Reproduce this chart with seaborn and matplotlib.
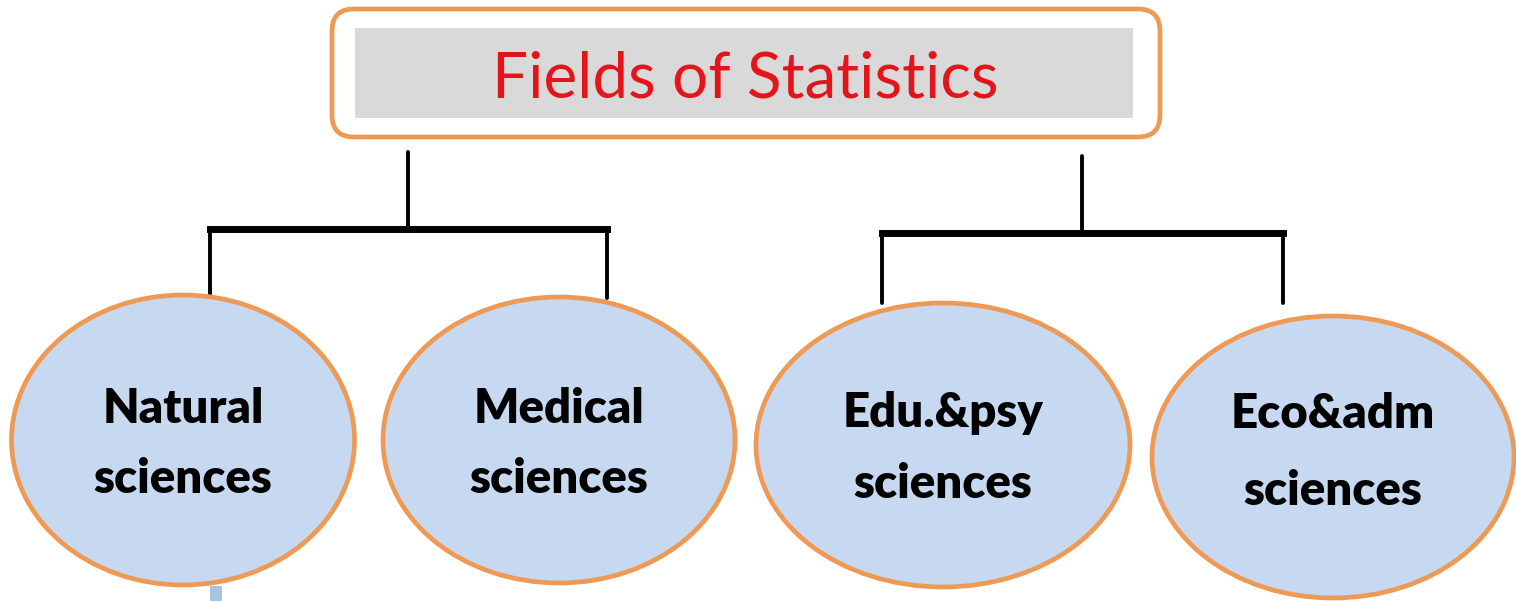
import matplotlib
matplotlib.use("Agg")
import matplotlib.pyplot as plt
import seaborn as sns
from matplotlib.patches import Ellipse, FancyBboxPatch, Rectangle

sns.set_theme(style="white")
plt.rcParams['font.family'] = ['Lato', 'DejaVu Sans']

# ---- content ----
title = "Fields of Statistics"
fields = ["Natural", "Medical", "Edu.&psy", "Eco&adm"]
second_line = ["sciences", "sciences", "sciences", "sciences"]
groups = [[0, 1], [2, 3]]

# ---- layout (pixel coordinates, y downwards) ----
W, H = 1516, 601
ell_cx = [183, 559, 943, 1333]
ell_cy = [440, 440, 445, 457]
ell_w = [343, 352, 374, 362]
ell_h = [290, 286, 284, 282]
line1_base = [423, 423, 427, 428]
line2_base = [493, 493, 498, 505]

orange = "#EE9A55"
blue_fill = "#C6D9F0"

fig = plt.figure(figsize=(W / 100, H / 100), dpi=100)
ax = fig.add_axes([0, 0, 1, 1])
ax.set_xlim(0, W)
ax.set_ylim(H, 0)
ax.axis("off")

# title box
ax.add_patch(FancyBboxPatch((332, 9), 828, 128,
                            boxstyle="round,pad=0,rounding_size=22",
                            facecolor="white", edgecolor=orange, linewidth=3.4, zorder=2))
ax.add_patch(Rectangle((355, 28), 778, 90, facecolor="#D9D9D9", edgecolor="none", zorder=3))
ax.text(745, 98, title, color="#E3151B", fontsize=46, ha="center", va="baseline",
        family=['Lato', 'DejaVu Sans'], zorder=4)

# connectors
conn_top = [152, 156]
conn_x = [408, 1082]
bar_y = [229, 233]
child_x = [[210, 607], [882, 1283]]
child_bottom = [[296, 298], [303, 303]]
for g in range(2):
    sns.lineplot(x=[conn_x[g], conn_x[g]], y=[conn_top[g], bar_y[g]], ax=ax,
                 color="black", linewidth=2.8, sort=False, estimator=None, zorder=1)
    sns.lineplot(x=child_x[g], y=[bar_y[g], bar_y[g]], ax=ax,
                 color="black", linewidth=5.0, sort=False, estimator=None, zorder=1,
                 solid_capstyle="projecting")
    for k in range(2):
        sns.lineplot(x=[child_x[g][k], child_x[g][k]], y=[bar_y[g], child_bottom[g][k]], ax=ax,
                     color="black", linewidth=2.8, sort=False, estimator=None, zorder=1)

# small artifact under first ellipse
ax.add_patch(Rectangle((210, 586), 12, 15, facecolor="#A9C3E0", edgecolor="none", zorder=1))

# ellipses and labels
for i, name in enumerate(fields):
    ax.add_patch(Ellipse((ell_cx[i], ell_cy[i]), ell_w[i], ell_h[i],
                         facecolor=blue_fill, edgecolor=orange, linewidth=3.4, zorder=5))
    ax.text(ell_cx[i], line1_base[i], name, fontsize=34, fontweight="heavy", color="black",
            ha="center", va="baseline", zorder=6)
    ax.text(ell_cx[i], line2_base[i], second_line[i], fontsize=34, fontweight="heavy",
            color="black", ha="center", va="baseline", zorder=6)

fig.savefig("out.png", dpi=100)
